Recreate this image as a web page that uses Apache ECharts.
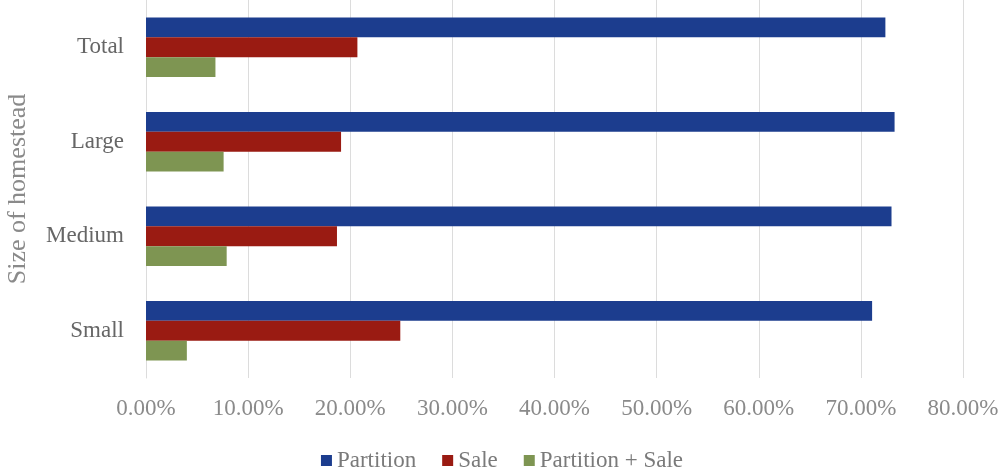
<!DOCTYPE html>
<html>
<head>
<meta charset="utf-8">
<script src="https://cdn.jsdelivr.net/npm/echarts@6/dist/echarts.min.js"></script>
<style>
  html, body { margin: 0; padding: 0; background: #ffffff; }
  #chart { width: 1004px; height: 472px; }
</style>
</head>
<body>
<div id="chart"></div>
<script>
// Homestead size categories, bottom to top
const categories = ['Small', 'Medium', 'Large', 'Total'];

// Share of outcomes (percent) per homestead size
const partition = [71.1, 73.0, 73.3, 72.4];
const sale = [24.9, 18.7, 19.1, 20.7];
const partitionSale = [4.0, 7.9, 7.6, 6.8];

const seriesNames = ['Partition', 'Sale', 'Partition + Sale'];
const seriesColors = ['#1c3d8e', '#9a1b12', '#7e9552'];

const FONT = '"Liberation Serif", "DejaVu Serif", serif';

const chart = echarts.init(document.getElementById('chart'), null, { renderer: 'canvas' });

const seriesData = [partition, sale, partitionSale];

chart.setOption({
  animation: false,
  backgroundColor: '#ffffff',
  grid: { left: 146, right: 41, top: 0, height: 378, containLabel: false, outerBoundsMode: 'none' },
  legend: {
    data: seriesNames,
    bottom: -5,
    left: 'center',
    itemWidth: 11,
    itemHeight: 11,
    itemGap: 26,
    icon: 'rect',
    textStyle: { fontFamily: FONT, fontSize: 23, color: '#7a7a7a' }
  },
  xAxis: {
    type: 'value',
    min: 0,
    max: 80,
    interval: 10,
    axisLine: { show: false },
    axisTick: { show: false },
    splitLine: { show: true, lineStyle: { color: '#dcdcdc', width: 1 } },
    axisLabel: {
      margin: 19,
      fontFamily: FONT,
      fontSize: 23,
      color: '#8a8a8a',
      formatter: v => v.toFixed(2) + '%'
    }
  },
  yAxis: {
    type: 'category',
    data: categories,
    name: 'Size of homestead',
    nameLocation: 'middle',
    nameRotate: 90,
    nameGap: 115,
    nameTextStyle: { fontFamily: FONT, fontSize: 26, color: '#8a8a8a' },
    axisLine: { show: true, lineStyle: { color: '#dcdcdc' } },
    axisTick: { show: false },
    axisLabel: { margin: 22, fontFamily: FONT, fontSize: 23, color: '#666666' }
  },
  series: seriesNames.map((name, i) => ({
    name,
    type: 'bar',
    data: seriesData[i],
    itemStyle: { color: seriesColors[i] },
    barGap: '0%',
    barCategoryGap: '37%'
  }))
});
</script>
</body>
</html>
